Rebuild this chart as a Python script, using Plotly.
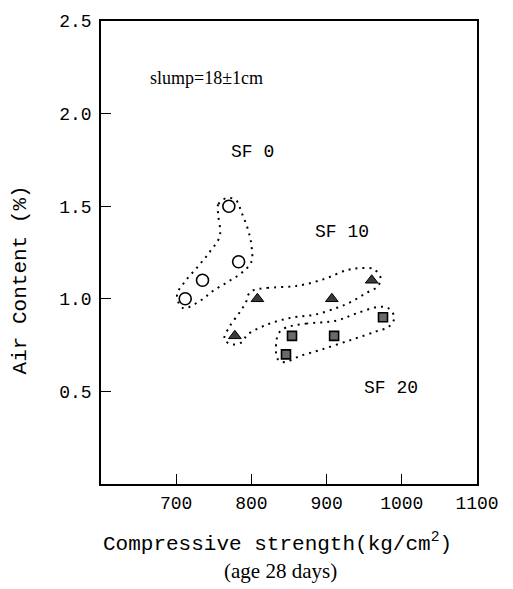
import plotly.graph_objects as go

# Measured mixes: compressive strength (kg/cm2, 28 days) vs. air content (%)
sf0_strength = [712, 735, 770, 783]
sf0_air = [1.0, 1.1, 1.5, 1.2]

sf10_strength = [778, 808, 907, 960]
sf10_air = [0.8, 1.0, 1.0, 1.1]

sf20_strength = [846, 854, 910, 975]
sf20_air = [0.7, 0.8, 0.8, 0.9]

# Hand-drawn grouping envelopes around each silica-fume series
sf0_env_x = [768, 756, 756, 758, 744, 728, 711, 701, 709, 734, 748, 768, 787, 800, 800, 795, 787, 780, 768]
sf0_env_y = [1.545, 1.51, 1.45, 1.34, 1.25, 1.17, 1.09, 1.02, 0.95, 0.995, 1.04, 1.09, 1.14, 1.20, 1.29, 1.38, 1.465, 1.53, 1.545]

sf10_env_x = [804, 821, 861, 897, 927, 946, 963, 972, 967, 952, 933, 914, 884, 853, 821, 795, 787, 775, 764, 771, 784, 793, 797, 804]
sf10_env_y = [1.048, 1.059, 1.07, 1.107, 1.155, 1.166, 1.16, 1.11, 1.064, 1.03, 0.984, 0.952, 0.914, 0.898, 0.861, 0.807, 0.765, 0.754, 0.78, 0.85, 0.925, 0.984, 1.03, 1.048]

sf20_env_x = [846, 873, 913, 939, 970, 983, 990, 983, 966, 934, 894, 864, 844, 835, 833, 837, 846]
sf20_env_y = [0.845, 0.866, 0.882, 0.92, 0.957, 0.947, 0.898, 0.85, 0.824, 0.78, 0.727, 0.69, 0.658, 0.674, 0.765, 0.818, 0.845]

x_ticks = [700, 800, 900, 1000, 1100]
y_ticks = [0.5, 1.0, 1.5, 2.0, 2.5]

MONO = "Liberation Mono"
SERIF = "Liberation Serif"

fig = go.Figure()

for ex, ey in [(sf0_env_x, sf0_env_y), (sf10_env_x, sf10_env_y), (sf20_env_x, sf20_env_y)]:
    fig.add_trace(go.Scatter(
        x=ex, y=ey, mode="lines",
        line=dict(color="black", width=2, dash="2px,5px", shape="spline", smoothing=1.0),
        hoverinfo="skip", showlegend=False,
    ))

fig.add_trace(go.Scatter(
    x=sf0_strength, y=sf0_air, mode="markers", name="SF 0",
    marker=dict(symbol="circle-open", size=12, color="black", line=dict(width=1.6, color="black")),
    showlegend=False,
))
fig.add_trace(go.Scatter(
    x=sf10_strength, y=sf10_air, mode="markers", name="SF 10",
    marker=dict(symbol="triangle-up", size=11, color="#3a3a3a", line=dict(width=1, color="black")),
    showlegend=False,
))
fig.add_trace(go.Scatter(
    x=sf20_strength, y=sf20_air, mode="markers", name="SF 20",
    marker=dict(symbol="square", size=9, color="#6a6a6a", line=dict(width=1.6, color="black")),
    showlegend=False,
))

annotations = [
    dict(x=740, y=2.19, text="slump=18±1cm", font=dict(family=SERIF, size=18, color="black")),
    dict(x=801, y=1.79, text="SF 0", font=dict(family=MONO, size=18, color="black")),
    dict(x=921, y=1.36, text="SF 10", font=dict(family=MONO, size=18, color="black")),
    dict(x=985, y=0.52, text="SF 20", font=dict(family=MONO, size=18, color="black")),
]
for a in annotations:
    fig.add_annotation(showarrow=False, xref="x", yref="y", **a)

fig.add_annotation(
    xref="paper", yref="paper", x=0.47, y=-0.126, yanchor="middle", showarrow=False,
    text="Compressive strength(kg/cm<sup>2</sup>)",
    font=dict(family=MONO, size=21, color="black"),
)
fig.add_annotation(
    xref="paper", yref="paper", x=0.478, y=-0.188, yanchor="middle", showarrow=False,
    text="(age 28 days)",
    font=dict(family=SERIF, size=21, color="black"),
)
fig.add_annotation(
    xref="paper", yref="paper", x=-0.215, y=0.44, xanchor="center", yanchor="middle",
    textangle=-90, showarrow=False,
    text="Air Content (%)",
    font=dict(family=MONO, size=21, color="black"),
)

fig.update_xaxes(
    range=[600, 1100], tickvals=x_ticks, ticktext=[str(v) for v in x_ticks],
    ticks="inside", ticklen=10, tickwidth=1.2, tickcolor="black",
    showline=True, linecolor="black", linewidth=1.5, mirror=True,
    showgrid=False, zeroline=False,
    tickfont=dict(family=MONO, size=18, color="black"),
    ticklabelstandoff=2,
)
fig.update_yaxes(
    range=[0, 2.5], tickvals=y_ticks, ticktext=["%.1f" % v for v in y_ticks],
    ticks="inside", ticklen=10, tickwidth=1.2, tickcolor="black",
    showline=True, linecolor="black", linewidth=1.5, mirror=True,
    showgrid=False, zeroline=False,
    tickfont=dict(family=MONO, size=18, color="black"),
    ticklabelstandoff=4,
)

fig.update_layout(
    width=513, height=589,
    margin=dict(l=101, r=36, t=16, b=105),
    paper_bgcolor="white", plot_bgcolor="white",
    showlegend=False,
)

fig.write_html("out.html")
